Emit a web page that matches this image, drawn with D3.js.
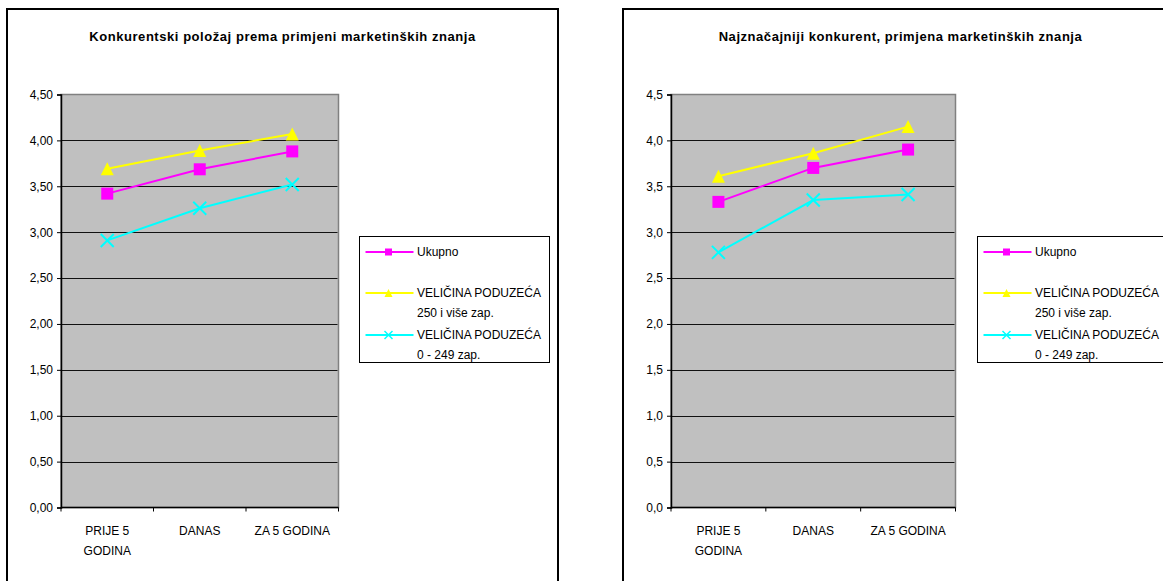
<!DOCTYPE html>
<html>
<head>
<meta charset="utf-8">
<script src="https://cdn.jsdelivr.net/npm/d3@7"></script>
<style>
  html, body { margin: 0; padding: 0; background: #ffffff; }
  svg { display: block; }
  text { font-family: "Liberation Sans", Arial, sans-serif; fill: #000; }
</style>
</head>
<body>
<svg id="chart" width="1163" height="581"></svg>
<script>
// ---- DATA ----
const categories = ["PRIJE 5 GODINA", "DANAS", "ZA 5 GODINA"];
const seriesKeys = ["ukupno", "veliki", "mali"];
const legendLabels = [
  ["Ukupno"],
  ["VELIČINA PODUZEĆA", "250 i više zap."],
  ["VELIČINA PODUZEĆA", "0 - 249 zap."]
];
const title1 = "Konkurentski položaj prema primjeni marketinških znanja";
const title2 = "Najznačajniji konkurent, primjena marketinških znanja";

const chart1Ukupno = [3.42, 3.685, 3.88];
const chart1Veliki = [3.69, 3.89, 4.07];
const chart1Mali   = [2.91, 3.26, 3.52];

const chart2Ukupno = [3.33, 3.70, 3.90];
const chart2Veliki = [3.61, 3.86, 4.15];
const chart2Mali   = [2.78, 3.35, 3.41];

const yTicks = [0, 0.5, 1, 1.5, 2, 2.5, 3, 3.5, 4, 4.5];
const yTickDecimals1 = 2;
const yTickDecimals2 = 1;

// ---- STYLE ----
const seriesColors = { ukupno: "#ff00ff", veliki: "#ffff00", mali: "#00ffff" };
const seriesMarkers = { ukupno: "square", veliki: "triangle", mali: "x" };
const markerSizes = { ukupno: 12, veliki: 13, mali: 13 };
const legendMarkerSizes = { ukupno: 7, veliki: 8, mali: 8 };
const locale = d3.formatLocale({ decimal: ",", thousands: ".", grouping: [3], currency: ["", ""] });

const svg = d3.select("#chart");

function drawMarker(g, type, color, cx, cy, size, sw) {
  if (type === "square") {
    g.append("rect").attr("x", cx - size / 2).attr("y", cy - size / 2)
      .attr("width", size).attr("height", size).attr("fill", color);
  } else if (type === "triangle") {
    const w = size, h = size;
    g.append("path")
      .attr("d", `M${cx},${cy - h / 2}L${cx + w / 2},${cy + h / 2}L${cx - w / 2},${cy + h / 2}Z`)
      .attr("fill", color);
  } else {
    const s = size / 2;
    g.append("path")
      .attr("d", `M${cx - s},${cy - s}L${cx + s},${cy + s}M${cx - s},${cy + s}L${cx + s},${cy - s}`)
      .attr("stroke", color).attr("stroke-width", sw || 2).attr("fill", "none");
  }
}

function wrapLabel(textSel, width) {
  textSel.each(function () {
    const t = d3.select(this);
    const words = t.text().split(" ");
    t.text(null);
    let line = [];
    let tspan = t.append("tspan").attr("x", 0).attr("dy", 0);
    words.forEach(w => {
      line.push(w);
      tspan.text(line.join(" "));
      if (tspan.node().getComputedTextLength() > width && line.length > 1) {
        line.pop();
        tspan.text(line.join(" "));
        line = [w];
        tspan = t.append("tspan").attr("x", 0).attr("dy", 20).text(w);
      }
    });
  });
}

function drawChart(cfg) {
  const root = svg.append("g");
  // outer frame
  root.append("rect")
    .attr("x", cfg.boxX).attr("y", cfg.boxY)
    .attr("width", cfg.boxW).attr("height", cfg.boxH)
    .attr("fill", "#fff").attr("stroke", "#000").attr("stroke-width", 2);

  // title
  root.append("text")
    .attr("x", cfg.boxX + cfg.boxW / 2).attr("y", 41)
    .attr("text-anchor", "middle")
    .style("font-size", "13px").style("font-weight", "bold")
    .style("letter-spacing", "0.55px")
    .text(cfg.title);

  const x = d3.scaleBand().domain(categories).range([cfg.plotL, cfg.plotR]);
  const y = d3.scaleLinear().domain([0, 4.5]).range([cfg.plotB, cfg.plotT]);

  // plot background
  root.append("rect")
    .attr("x", cfg.plotL).attr("y", cfg.plotT)
    .attr("width", cfg.plotR - cfg.plotL).attr("height", cfg.plotB - cfg.plotT)
    .attr("fill", "#c0c0c0").attr("stroke", "#808080").attr("stroke-width", 1.5);

  // gridlines
  root.append("g").selectAll("line")
    .data(yTicks.filter(v => v > 0 && v < 4.5))
    .join("line")
    .attr("x1", cfg.plotL).attr("x2", cfg.plotR - 1)
    .attr("y1", d => Math.round(y(d)) + 0.5).attr("y2", d => Math.round(y(d)) + 0.5)
    .attr("stroke", "#111").attr("stroke-width", 1);

  // y axis
  const fmt = locale.format("." + cfg.decimals + "f");
  const yAxis = root.append("g")
    .attr("transform", `translate(${cfg.plotL},0)`)
    .call(d3.axisLeft(y).tickValues(yTicks).tickFormat(fmt).tickSize(4).tickPadding(4));
  yAxis.select(".domain").attr("stroke", "#000").attr("stroke-width", 1.5);
  yAxis.selectAll(".tick text").style("font-size", "12px").style("font-family", "'Liberation Sans', Arial, sans-serif");

  // x axis
  const xAxis = root.append("g")
    .attr("transform", `translate(0,${cfg.plotB})`)
    .call(d3.axisBottom(x).tickSize(0).tickPadding(0));
  xAxis.select(".domain").remove();
  xAxis.append("line")
    .attr("x1", cfg.plotL).attr("x2", cfg.plotR).attr("y1", 0).attr("y2", 0)
    .attr("stroke", "#000").attr("stroke-width", 1.5);
  const bounds = [...categories.map(c => x(c)), cfg.plotR];
  xAxis.selectAll(".bt").data(bounds).join("line")
    .attr("x1", d => d).attr("x2", d => d).attr("y1", 0).attr("y2", 4)
    .attr("stroke", "#000");
  xAxis.selectAll(".tick text")
    .attr("y", 27)
    .style("font-size", "12px")
    .style("font-family", "'Liberation Sans', Arial, sans-serif")
    .call(wrapLabel, x.bandwidth() - 10);

  // series
  const seriesData = { ukupno: cfg.ukupno, veliki: cfg.veliki, mali: cfg.mali };
  const line = d3.line()
    .x((d, i) => x(categories[i]) + x.bandwidth() / 2)
    .y(d => y(d));
  seriesKeys.forEach(k => {
    root.append("path").datum(seriesData[k])
      .attr("d", line).attr("fill", "none")
      .attr("stroke", seriesColors[k]).attr("stroke-width", 2);
  });
  seriesKeys.forEach(k => {
    const mg = root.append("g");
    seriesData[k].forEach((v, i) => {
      drawMarker(mg, seriesMarkers[k], seriesColors[k],
        x(categories[i]) + x.bandwidth() / 2, y(v), markerSizes[k], 2);
    });
  });

  // legend
  const lg = root.append("g").attr("transform", `translate(${cfg.legX},${cfg.legY})`);
  lg.append("rect").attr("x", 0).attr("y", 0)
    .attr("width", cfg.legW).attr("height", 126)
    .attr("fill", "#fff").attr("stroke", "#000").attr("stroke-width", 1);
  const rowY = [15.5, 56.5, 98.5];
  seriesKeys.forEach((k, i) => {
    const ry = rowY[i];
    lg.append("line").attr("x1", 6).attr("x2", 54).attr("y1", ry).attr("y2", ry)
      .attr("stroke", seriesColors[k]).attr("stroke-width", 2);
    drawMarker(lg, seriesMarkers[k], seriesColors[k], 29, ry, legendMarkerSizes[k], 1.5);
    legendLabels[i].forEach((txt, j) => {
      lg.append("text").attr("x", 57.5).attr("y", ry + 4 + j * 19.5)
        .style("font-size", "12px").text(txt);
    });
  });
}

drawChart({
  boxX: 7, boxY: 9, boxW: 551, boxH: 620,
  title: title1,
  plotL: 61, plotR: 338.5, plotT: 94.5, plotB: 507.5,
  decimals: yTickDecimals1,
  ukupno: chart1Ukupno, veliki: chart1Veliki, mali: chart1Mali,
  legX: 359.5, legY: 236.5, legW: 190
});

drawChart({
  boxX: 623, boxY: 9, boxW: 555, boxH: 620,
  title: title2,
  plotL: 671, plotR: 955.5, plotT: 94.5, plotB: 507.5,
  decimals: yTickDecimals2,
  ukupno: chart2Ukupno, veliki: chart2Veliki, mali: chart2Mali,
  legX: 977.5, legY: 236.5, legW: 200
});
</script>
</body>
</html>
